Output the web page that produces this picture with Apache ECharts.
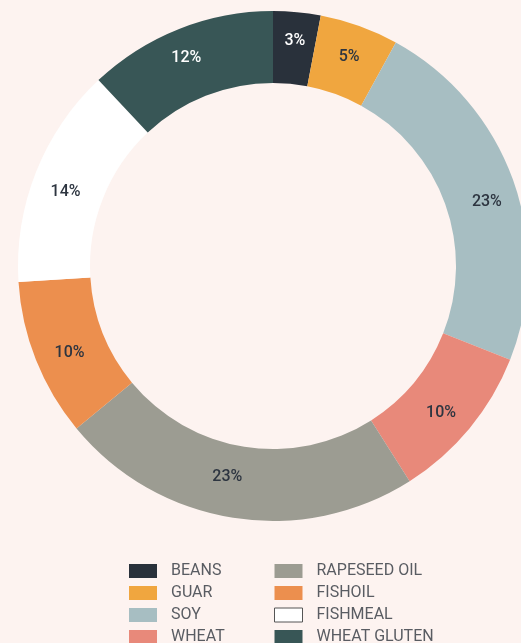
<!DOCTYPE html>
<html><head><meta charset="utf-8">
<script src="https://cdn.jsdelivr.net/npm/echarts@6/dist/echarts.min.js"></script>
<style>html,body{margin:0;padding:0;background:#fdf3f0;}#c{width:521px;height:643px;}</style>
</head><body><div id="c"></div>
<script>
const categories = ['BEANS','GUAR','SOY','WHEAT','RAPESEED OIL','FISHOIL','FISHMEAL','WHEAT GLUTEN'];
const values = [3,5,23,10,23,10,14,12];
const colors = ['#29313b','#f0a63f','#a7bec2','#e8897a','#9c9c92','#ec8f4e','#ffffff','#385656'];
const labelColors = ['#ffffff','#2d3540','#2d3540','#2d3540','#2d3540','#2d3540','#2d3540','#ffffff'];
const labelNudge = [[1,-4],[1,0],[5,11],[-3,5],[-11,-8],[3,5],[-1,8],[-5,-2]];

const chart = echarts.init(document.getElementById('c'));
const font = 'Roboto, "DejaVu Sans", sans-serif';
function legendData(names){
  return names.map(n => n === 'FISHMEAL' ? {name:n, itemStyle:{borderColor:'#555',borderWidth:1}} : {name:n});
}
const legendCommon = {
  orient:'vertical', top:563, padding:0, height:120, itemWidth:28, itemHeight:14, itemGap:6, icon:'rect',
  textStyle:{fontFamily:font, fontSize:16, lineHeight:14, color:'#595c62', padding:[0,0,0,9]}
};
chart.setOption({
  backgroundColor:'#fdf3f0',
  animation:false,
  legend:[
    Object.assign({left:129, data:legendData(categories.slice(0,4))}, legendCommon),
    Object.assign({left:274, data:legendData(categories.slice(4))}, legendCommon)
  ],
  series:[{
    type:'pie', center:[273,266], radius:[183,255], startAngle:90, clockwise:true,
    avoidLabelOverlap:false,
    label:{position:'inside', formatter:'{c}%', fontFamily:font, fontSize:16, fontWeight:500},
    labelLine:{show:false},
    emphasis:{disabled:true},
    data: categories.map((n,i)=>({name:n, value:values[i], itemStyle:{color:colors[i]},
      label:{color:labelColors[i], offset:labelNudge[i]}}))
  }]
});
</script></body></html>
